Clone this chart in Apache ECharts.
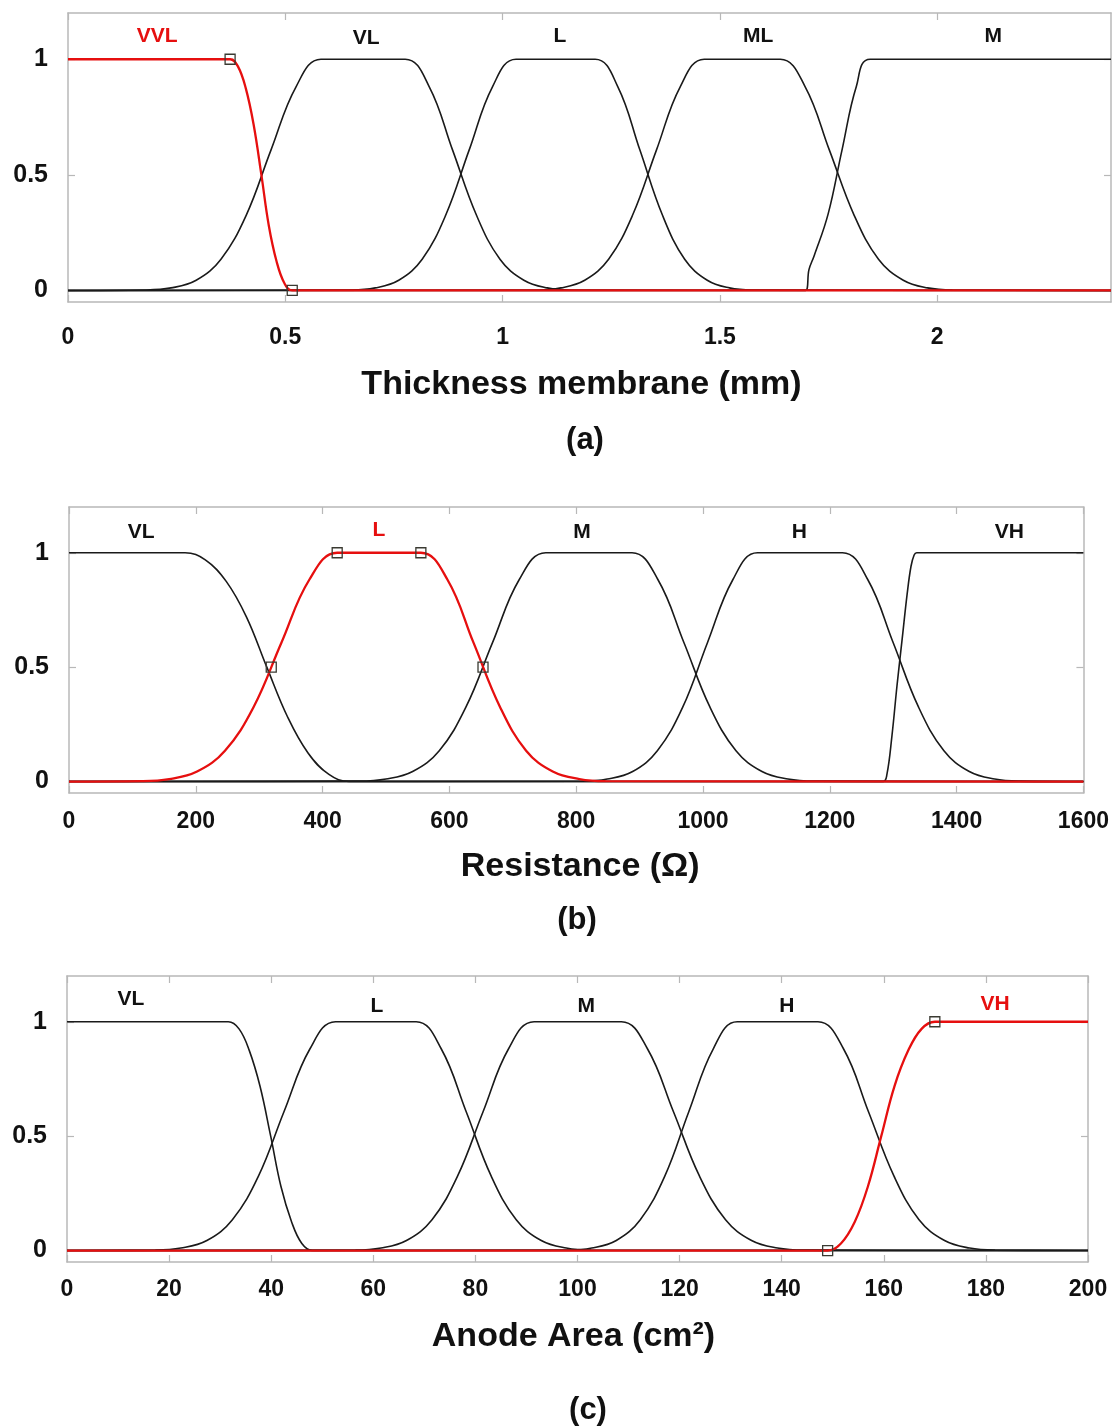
<!DOCTYPE html>
<html>
  <head>
    <meta charset="utf-8" />
    <title>Membership functions</title>
    <script src="https://cdn.jsdelivr.net/npm/echarts@6/dist/echarts.min.js"></script>
    <style>
      body { margin: 0; background: #fff; }
    </style>
  </head>
  <body>
    <div id="main" style="width: 1112px; height: 1427px"></div>
    <script type="text/javascript">
      // (a) thickness membrane
      var thickVVL = [[0,1],[0.373,1],[0.391,0.969],[0.409,0.875],[0.427,0.719],[0.445,0.5],[0.462,0.281],[0.480,0.125],[0.498,0.031],[0.516,0],[2.4,0]];
      var thickVL = [[0,0],[0.180,0.002],[0.237,0.011],[0.295,0.044],[0.352,0.135],[0.410,0.325],[0.467,0.607],[0.525,0.882],[0.582,1],[0.776,1],[0.831,0.882],[0.885,0.607],[0.940,0.325],[0.994,0.135],[1.049,0.044],[1.103,0.011],[1.158,0.002],[2.4,0]];
      var thickL = [[0,0],[0.653,0.002],[0.707,0.011],[0.761,0.044],[0.815,0.135],[0.869,0.325],[0.923,0.607],[0.977,0.882],[1.031,1],[1.213,1],[1.265,0.882],[1.316,0.607],[1.368,0.325],[1.419,0.135],[1.471,0.044],[1.522,0.011],[1.574,0.002],[2.4,0]];
      var thickML = [[0,0],[1.079,0.002],[1.134,0.011],[1.189,0.044],[1.244,0.135],[1.299,0.325],[1.354,0.607],[1.409,0.882],[1.464,1],[1.639,1],[1.696,0.882],[1.752,0.607],[1.809,0.325],[1.865,0.135],[1.922,0.044],[1.978,0.011],[2.035,0.002],[2.4,0]];
      var thickM = [[0,0],[1.697,0],[1.705,0.09],[1.717,0.15],[1.749,0.33],[1.781,0.607],[1.814,0.882],[1.846,1],[2.4,1]];
      var thickMarks = [[0.373,1],[0.516,0]];
      var thickNames = ["VVL","VL","L","ML","M"];
      var thickNameX = [0.205,0.686,1.132,1.588,2.129];
      var thickNameY = [1.1,1.09,1.1,1.1,1.1];
      var thickTicks = [0,0.5,1,1.5,2];

      // (b) resistance
      var resVL = [[0,1],[183,1],[215,0.969],[248,0.875],[280,0.719],[312,0.5],[345,0.281],[377,0.125],[410,0.031],[442,0],[1600,0]];
      var resL = [[0,0],[114,0.002],[158,0.011],[202,0.044],[246,0.135],[291,0.325],[335,0.607],[379,0.882],[423,1],[555,1],[597,0.882],[638,0.607],[680,0.325],[721,0.135],[763,0.044],[805,0.011],[846,0.002],[1600,0]];
      var resM = [[0,0],[458,0.002],[500,0.011],[542,0.044],[584,0.135],[626,0.325],[668,0.607],[710,0.882],[752,1],[888,1],[929,0.882],[970,0.607],[1011,0.325],[1052,0.135],[1093,0.044],[1134,0.011],[1175,0.002],[1600,0]];
      var resH = [[0,0],[810,0.002],[849,0.011],[889,0.044],[928,0.135],[968,0.325],[1007,0.607],[1047,0.882],[1086,1],[1220,1],[1260,0.882],[1300,0.607],[1340,0.325],[1380,0.135],[1420,0.044],[1460,0.011],[1500,0.002],[1600,0]];
      var resVH = [[0,0],[1284,0],[1290,0.03],[1298,0.2],[1306,0.42],[1314,0.62],[1322,0.82],[1328,0.94],[1333,0.99],[1337,1],[1600,1]];
      var resMarks = [[423,1],[555,1],[319,0.5],[653,0.5]];
      var resNames = ["VL","L","M","H","VH"];
      var resNameX = [114,489,809,1152,1483];
      var resNameY = [1.09,1.1,1.09,1.09,1.09];
      var resTicks = [0,200,400,600,800,1000,1200,1400,1600];

      // (c) anode area
      var areaVL = [[0,1],[31.6,1],[33.7,0.969],[35.7,0.875],[37.8,0.719],[39.9,0.5],[41.9,0.281],[44.0,0.125],[46.0,0.031],[48.1,0],[200,0]];
      var areaL = [[0,0],[17.3,0.002],[22.3,0.011],[27.4,0.044],[32.4,0.135],[37.5,0.325],[42.5,0.607],[47.6,0.882],[52.6,1],[68.4,1],[73.3,0.882],[78.2,0.607],[83.1,0.325],[88.0,0.135],[92.9,0.044],[97.8,0.011],[102.7,0.002],[200,0]];
      var areaM = [[0,0],[56.5,0.002],[61.5,0.011],[66.5,0.044],[71.5,0.135],[76.5,0.325],[81.5,0.607],[86.5,0.882],[91.5,1],[108.6,1],[113.7,0.882],[118.8,0.607],[123.9,0.325],[129.0,0.135],[134.1,0.044],[139.2,0.011],[144.3,0.002],[200,0]];
      var areaH = [[0,0],[98.1,0.002],[102.8,0.011],[107.6,0.044],[112.3,0.135],[117.1,0.325],[121.8,0.607],[126.6,0.882],[131.3,1],[147.1,1],[152.1,0.882],[157.0,0.607],[162.0,0.325],[166.9,0.135],[171.9,0.044],[176.8,0.011],[181.8,0.002],[200,0]];
      var areaVH = [[0,0],[149,0],[151.6,0.031],[154.3,0.125],[156.9,0.281],[159.5,0.5],[162.1,0.719],[164.8,0.875],[167.4,0.969],[170,1],[200,1]];
      var areaMarks = [[149,0],[170,1]];
      var areaNames = ["VL","L","M","H","VH"];
      var areaNameX = [12.5,60.7,101.7,141,181.8];
      var areaNameY = [1.1,1.07,1.07,1.07,1.075];
      var areaTicks = [0,20,40,60,80,100,120,140,160,180,200];

      var yTicks = [0, 0.5, 1];
    </script>

    <script type="text/javascript">
      var myChart = echarts.init(document.getElementById("main"));

      var RED = "#e60f0f";
      var INK = "#1a1a1a";
      var FRAME = "#b8b8b8";
      var FONT = "Liberation Sans, Arial, sans-serif";

      function curve(data, idx, red) {
        return {
          type: "line",
          xAxisIndex: idx * 2,
          yAxisIndex: idx * 2,
          data: data,
          smooth: 0.4,
          showSymbol: false,
          symbol: "none",
          z: red ? 4 : 3,
          lineStyle: { color: red ? RED : INK, width: red ? 2.3 : 1.6 },
        };
      }

      function marks(data, idx) {
        return {
          type: "scatter",
          xAxisIndex: idx * 2,
          yAxisIndex: idx * 2,
          data: data,
          symbol: "rect",
          symbolSize: 10,
          z: 5,
          itemStyle: { color: "rgba(255,255,255,0)", borderColor: "#3a3a32", borderWidth: 1.3, opacity: 1 },
        };
      }

      function names(list, xs, ys, redIdx, idx) {
        var items = [];
        for (var i = 0; i < list.length; i++) {
          items.push({
            value: [xs[i], ys[i]],
            name: list[i],
            label: { color: i === redIdx ? RED : "#111" },
          });
        }
        return {
          type: "scatter",
          xAxisIndex: idx * 2,
          yAxisIndex: idx * 2,
          data: items,
          symbolSize: 1,
          itemStyle: { color: "rgba(0,0,0,0)", opacity: 1 },
          label: {
            show: true,
            position: "inside",
            formatter: "{b}",
            fontFamily: FONT,
            fontWeight: "bold",
            fontSize: 21,
          },
        };
      }

      function plain(v) {
        return String(v);
      }

      // namePad shifts the axis title left (negative) or right (positive)
      function axesFor(idx, max, ticks, name, labelMargin, nameGap, namePad) {
        var line = { show: true, onZero: false, lineStyle: { color: FRAME, width: 1.5 } };
        var tick = { show: true, inside: true, length: 7, lineStyle: { color: FRAME, width: 1.2 } };
        var pad = namePad < 0 ? [0, -2 * namePad, 0, 0] : [0, 0, 0, 2 * namePad];
        var xs = [
          {
            type: "value", gridIndex: idx, min: 0, max: max, position: "bottom",
            axisLine: line,
            axisTick: Object.assign({ customValues: ticks }, tick),
            splitLine: { show: false },
            axisLabel: { customValues: ticks, formatter: plain, margin: labelMargin, color: "#111", fontFamily: FONT, fontWeight: "bold", fontSize: 23 },
            name: name, nameLocation: "middle", nameGap: nameGap,
            nameTextStyle: { color: "#111", fontFamily: FONT, fontWeight: "bold", fontSize: 34, padding: pad },
          },
          {
            type: "value", gridIndex: idx, min: 0, max: max, position: "top",
            axisLine: line,
            axisTick: Object.assign({ customValues: ticks }, tick),
            axisLabel: { show: false },
            splitLine: { show: false },
          },
        ];
        var ys = [
          {
            type: "value", gridIndex: idx, min: -0.05, max: 1.2, position: "left",
            axisLine: line,
            axisTick: Object.assign({ customValues: yTicks }, tick),
            splitLine: { show: false },
            axisLabel: { customValues: yTicks, formatter: plain, margin: 20, color: "#111", fontFamily: FONT, fontWeight: "bold", fontSize: 25 },
          },
          {
            type: "value", gridIndex: idx, min: -0.05, max: 1.2, position: "right",
            axisLine: line,
            axisTick: Object.assign({ customValues: yTicks }, tick),
            axisLabel: { show: false },
            splitLine: { show: false },
          },
        ];
        return { x: xs, y: ys };
      }

      var a = axesFor(0, 2.4, thickTicks, "Thickness membrane (mm)", 24, 66, -8);
      var b = axesFor(1, 1600, resTicks, "Resistance (\u03a9)", 17, 57, 4);
      var c = axesFor(2, 200, areaTicks, "Anode Area (cm\u00b2)", 16, 58, -4);

      var letterStyle = { fill: "#111", font: "bold 31px " + FONT, textAlign: "center", textVerticalAlign: "middle" };

      var option = {
        animation: false,
        backgroundColor: "#fff",
        grid: [
          { left: 68, top: 13, width: 1043, height: 289 },
          { left: 69, top: 507, width: 1024, height: 286 },
          { left: 67, top: 976, width: 1021, height: 286 },
        ],
        xAxis: a.x.concat(b.x, c.x),
        yAxis: a.y.concat(b.y, c.y),
        graphic: [
          { type: "text", x: 585, y: 440, style: Object.assign({ text: "(a)" }, letterStyle) },
          { type: "text", x: 577, y: 920, style: Object.assign({ text: "(b)" }, letterStyle) },
          { type: "text", x: 588, y: 1410, style: Object.assign({ text: "(c)" }, letterStyle) },
        ],
        series: [
          curve(thickVL, 0), curve(thickL, 0), curve(thickML, 0), curve(thickM, 0),
          curve(thickVVL, 0, true), marks(thickMarks, 0),
          names(thickNames, thickNameX, thickNameY, 0, 0),

          curve(resVL, 1), curve(resM, 1), curve(resH, 1), curve(resVH, 1),
          curve(resL, 1, true), marks(resMarks, 1),
          names(resNames, resNameX, resNameY, 1, 1),

          curve(areaVL, 2), curve(areaL, 2), curve(areaM, 2), curve(areaH, 2),
          curve(areaVH, 2, true), marks(areaMarks, 2),
          names(areaNames, areaNameX, areaNameY, 4, 2),
        ],
      };

      myChart.setOption(option);
    </script>
  </body>
</html>
